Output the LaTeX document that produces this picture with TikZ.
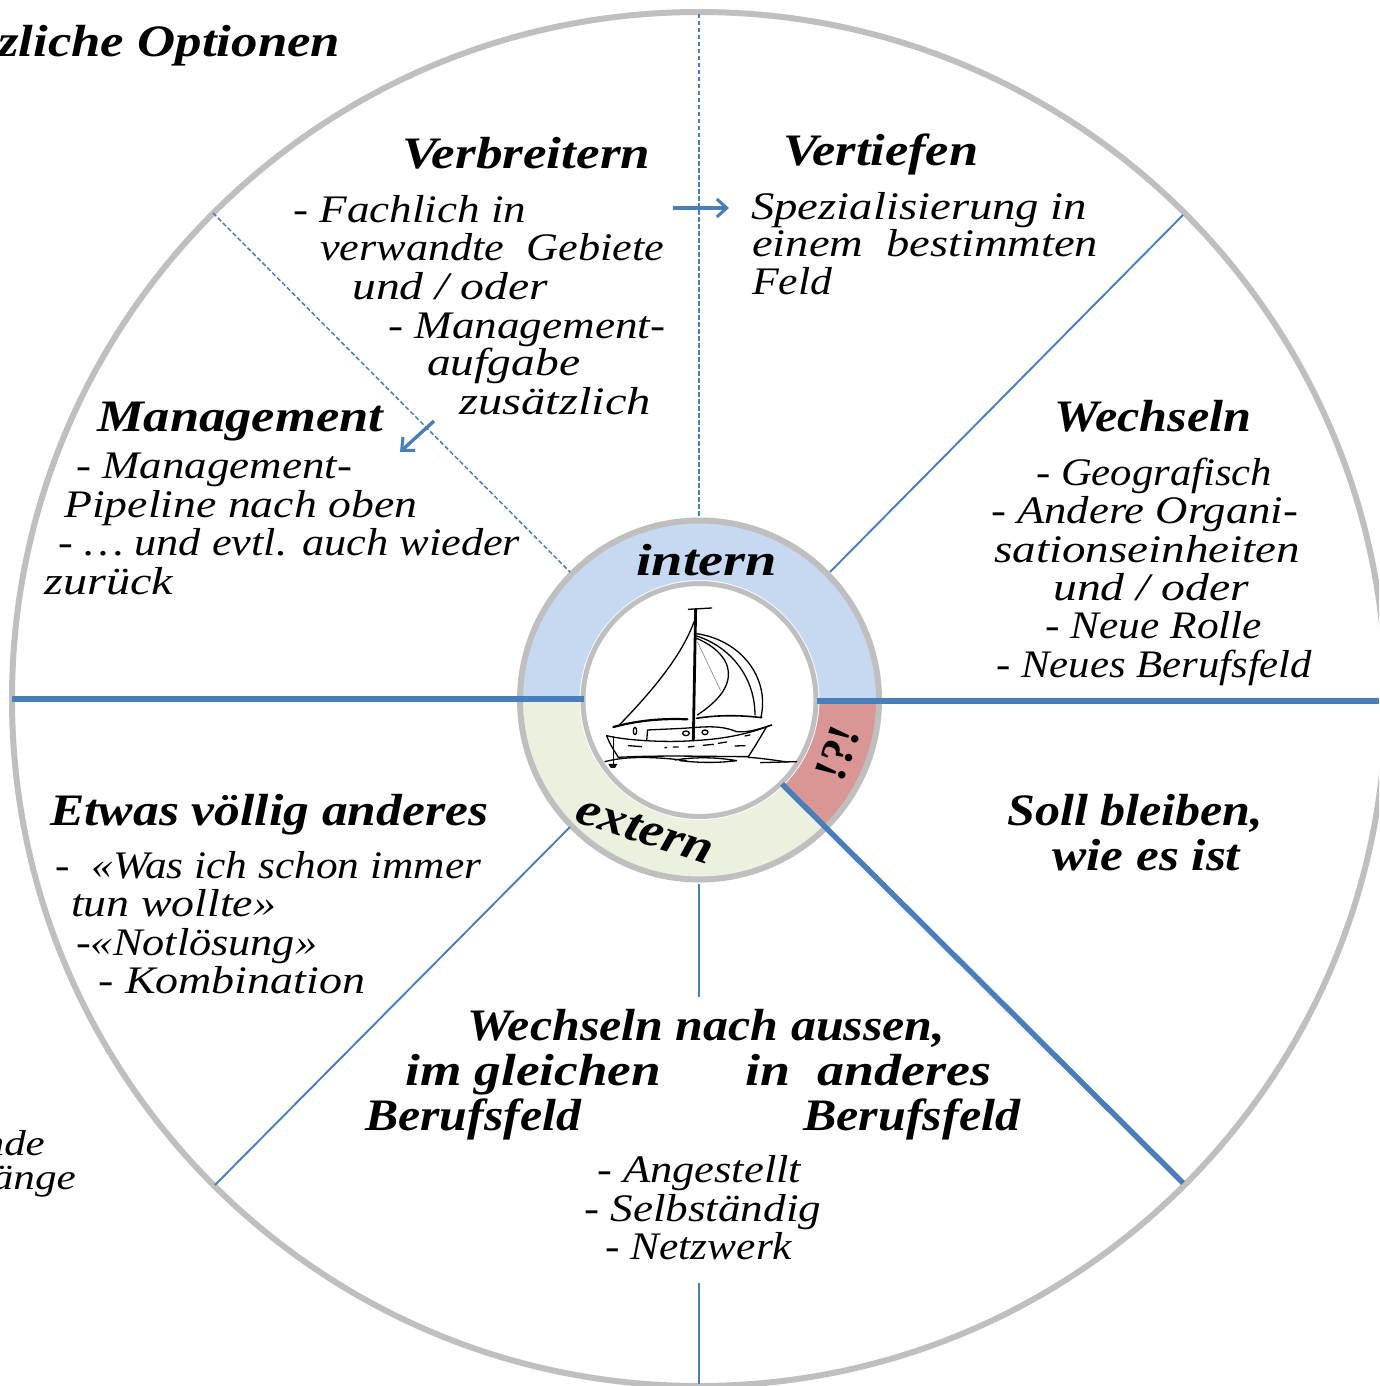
\documentclass[tikz,border=0pt]{standalone}
\usepackage{graphicx}
\usepackage{fontspec}
\setmainfont{Liberation Serif}
\usetikzlibrary{arrows.meta}
\definecolor{ringgray}{HTML}{BFBFBF}
\definecolor{lineblue}{HTML}{4A7EBB}
\definecolor{inblue}{HTML}{C6D9F1}
\definecolor{exgreen}{HTML}{EBF1DE}
\definecolor{alarm}{HTML}{D99694}
\newcommand\fitw[2]{\resizebox{#1pt}{\height}{#2}}
\tikzset{
  head/.style={anchor=base west,inner sep=0pt,yshift=1.5pt,font=\fontsize{45}{45}\selectfont\bfseries\itshape},
  body/.style={anchor=base west,inner sep=0pt,yshift=1.5pt,font=\fontsize{39}{39}\selectfont\itshape},
  clipr/.style={anchor=base east,inner sep=0pt,font=\fontsize{36}{36}\selectfont\itshape},
  gring/.style={draw=ringgray,line width=6pt},
  thinl/.style={draw=lineblue,line width=1.9pt},
  dashl/.style={draw=lineblue,line width=1.5pt,dash pattern=on 4.5pt off 2.5pt},
  thickl/.style={draw=lineblue,line width=5.5pt},
  arr/.style={draw=lineblue,line width=3.4pt,-{Straight Barb[length=10pt,width=18pt,line width=3pt]}},
  ship/.style={draw=black,line width=1.3pt,line cap=round,line join=round},
  shipb/.style={ship,line width=2.2pt}
}
\begin{document}
\begin{tikzpicture}[x=1pt,y=-1pt]
\useasboundingbox (0,0) rectangle (1379,1386);
\clip (0,0) rectangle (1379,1386);
\fill[white] (0,0) rectangle (1379,1386);
\coordinate (c) at (699.5,700);
% ring sectors
\fill[inblue] (c) ++(-178,0) arc[start angle=180,end angle=360,radius=178] -- ++(-58,0) arc[start angle=360,end angle=180,radius=120] -- cycle;
\fill[exgreen] (c) ++(-178,0) arc[start angle=180,end angle=45,radius=178] -- ++(-41,-41) arc[start angle=45,end angle=180,radius=120] -- cycle;
\fill[alarm] (c) ++(178,0) arc[start angle=0,end angle=45,radius=178] -- ++(-41,-41) arc[start angle=45,end angle=0,radius=120] -- cycle;
% big circle and rings
\draw[gring] (699,699) circle[radius=687];
\draw[gring] (c) circle[radius=179.5];
\draw[gring,line width=5pt] (c) circle[radius=116.5];
% connector ends
\coordinate (tt) at (699,14);
\coordinate (tb) at (699,518);
\coordinate (tl) at (213,213);
\coordinate (tli) at (570,572);
\coordinate (tr) at (1183,215);
\coordinate (tri) at (830,572);
\coordinate (bl) at (215,1185);
\coordinate (bli) at (570,827);
\coordinate (br) at (1183,1183);
\coordinate (bri) at (782,784);
\coordinate (ll) at (12,699);
\coordinate (lli) at (584,699);
\coordinate (rr) at (1379,701);
\coordinate (rri) at (817,701);
\coordinate (ba) at (699,884);
\coordinate (bb) at (699,997);
\coordinate (bc) at (699,1283);
\coordinate (bd) at (699,1384);
\coordinate (a1s) at (673,208);
\coordinate (a1e) at (729,208);
\coordinate (a2s) at (434,421);
\coordinate (a2e) at (400,452);
\draw[dashl] (tt) -- (tb);
\draw[dashl] (tl) -- (tli);
\draw[thinl] (tr) -- (tri);
\draw[thinl] (bl) -- (bli);
\draw[thinl] (ba) -- (bb);
\draw[thinl] (bc) -- (bd);
\draw[thickl] (ll) -- (lli);
\draw[thickl] (rr) -- (rri);
\draw[thickl] (br) -- (bri);
\draw[arr] (a1s) -- (a1e);
\draw[arr] (a2s) -- (a2e);
% ship (coordinates in 3x crop units)
\begin{scope}[shift={(500,500)},x=0.3333pt,y=-0.3333pt]
\draw[shipb,line width=2.8pt] (587,328) -- (580,720);
\draw[ship] (565,328) -- (635,324);
\draw[ship] (582,365) .. controls (545,470) and (450,580) .. (358,675);
\draw[shipb] (340,681) .. controls (420,660) and (490,655) .. (562,658);
\draw[ship] (590,401) .. controls (720,420) and (810,530) .. (783,652);
\draw[ship] (590,408) .. controls (690,440) and (765,530) .. (765,645);
\draw[ship] (590,415) .. controls (660,445) and (690,490) .. (685,530) .. controls (680,580) and (630,620) .. (592,645);
\draw[black!45,line width=0.7pt] (592,425) -- (662,572);
\draw[shipb,line width=1.6pt] (590,655) .. controls (650,645) and (720,645) .. (785,653);
\draw[ship] (320,707) .. controls (380,722) and (500,728) .. (580,722) .. controls (660,718) and (740,705) .. (815,675);
\draw[ship] (320,707) .. controls (330,735) and (345,755) .. (355,772) .. controls (480,765) and (640,770) .. (745,770) .. controls (765,740) and (785,705) .. (800,680);
\draw[ship] (440,722) -- (443,690) -- (550,685) .. controls (620,680) and (660,675) .. (710,695) .. controls (740,698) and (770,690) .. (815,675);
\draw[ship] (558,700) ellipse[x radius=10,y radius=7];
\draw[ship] (615,697) ellipse[x radius=9,y radius=7];
\draw[ship] (405,693) ellipse[x radius=5,y radius=11];
\draw[ship] (385,737) -- (425,740);
\draw[ship] (495,743) -- (500,743) (520,741) -- (535,741) (565,741) -- (582,739) (610,736) -- (640,733) (655,730) -- (680,726) (705,738) -- (735,737) (735,708) -- (750,705);
\draw[ship] (315,785) .. controls (370,770) and (450,768) .. (560,782);
\draw[ship] (525,780) .. controls (590,770) and (650,772) .. (710,782) .. controls (650,790) and (590,788) .. (540,782);
\draw[ship] (745,772) .. controls (790,775) and (840,783) .. (860,786);
\draw[ship] (782,788) -- (890,785);
\draw[ship] (340,710) -- (340,795);
\fill[black] (325,792) -- (352,792) -- (345,804) -- (332,804) -- cycle;
\end{scope}
% labels
\node[head] (n01) at (-2,58) {\fitw{342}{zliche Optionen}};
\node[head] (n02) at (402,170) {\fitw{248}{Verbreitern}};
\node[head] (n03) at (783,167) {\fitw{195}{Vertiefen}};
\node[body] (n04) at (293,224) {\fitw{233}{- Fachlich in}};
\node[body] (n05) at (320,262) {\fitw{344}{verwandte\ \ Gebiete}};
\node[body] (n06) at (352,301) {\fitw{196}{und / oder}};
\node[body] (n07) at (388,340) {\fitw{277}{- Management-}};
\node[body] (n08) at (427,377) {\fitw{153}{aufgabe}};
\node[body] (n09) at (459,416) {\fitw{192}{zusätzlich}};
\node[body] (n10) at (751,221) {\fitw{336}{Spezialisierung in}};
\node[body] (n11) at (752,258) {\fitw{346}{einem\ \ bestimmten}};
\node[body] (n12) at (752,296) {\fitw{80}{Feld}};
\node[head] (n13) at (97,433) {\fitw{286}{Management}};
\node[body] (n14) at (76,480) {\fitw{276}{- Management-}};
\node[body] (n15) at (64,519) {\fitw{353}{Pipeline nach oben}};
\node[body] (n16) at (58,557) {\fitw{462}{- … und evtl. auch wieder}};
\node[body] (n17) at (44,596) {\fitw{129}{zurück}};
\node[head] (n18) at (1054,433) {\fitw{197}{Wechseln}};
\node[body] (n19) at (1036,487) {\fitw{236}{- Geografisch}};
\node[body] (n20) at (991,525) {\fitw{307}{- Andere Organi-}};
\node[body] (n21) at (994,564) {\fitw{306}{sationseinheiten}};
\node[body] (n22) at (1053,602) {\fitw{196}{und / oder}};
\node[body] (n23) at (1045,640) {\fitw{217}{- Neue Rolle}};
\node[body] (n24) at (996,679) {\fitw{316}{- Neues Berufsfeld}};
\node[head] (n25) at (1007,827) {\fitw{256}{Soll bleiben,}};
\node[head] (n26) at (1052,872) {\fitw{188}{wie es ist}};
\node[head] (n27) at (50,827) {\fitw{438}{Etwas völlig anderes}};
\node[body] (n28) at (55,880) {\fitw{426}{-\ \ «Was ich schon immer}};
\node[body] (n29) at (71,918) {\fitw{205}{tun wollte»}};
\node[body] (n30) at (76,957) {\fitw{241}{-«Notlösung»}};
\node[body] (n31) at (98,995) {\fitw{267}{- Kombination}};
\node[head] (n32) at (467,1042) {\fitw{478}{Wechseln nach aussen,}};
\node[head] (n33) at (405,1087) {\fitw{256}{im gleichen}};
\node[head] (n34) at (745,1087) {\fitw{246}{in\ \ anderes}};
\node[head] (n35) at (365,1132) {\fitw{216}{Berufsfeld}};
\node[head] (n36) at (803,1132) {\fitw{217}{Berufsfeld}};
\node[body] (n37) at (597,1184) {\fitw{204}{- Angestellt}};
\node[body] (n38) at (584,1223) {\fitw{237}{- Selbständig}};
\node[body] (n39) at (605,1261) {\fitw{187}{- Netzwerk}};
\node[clipr] (n40) at (45,1155) {\fitw{62}{nde}};
\node[clipr] (n41) at (76,1189) {\fitw{84}{änge}};
\node[head] (n42) at (636,577) {\fitw{141}{intern}};
\node[head,anchor=center,rotate=-18,yshift=0pt,font=\fontsize{48}{48}\selectfont\bfseries\itshape] (n43) at (645,832) {\fitw{141}{extern}};
\node[anchor=center,inner sep=0pt,rotate=70,font=\fontsize{46}{46}\selectfont\bfseries] (n44) at (838,753) {!?!};
\end{tikzpicture}
\end{document}
